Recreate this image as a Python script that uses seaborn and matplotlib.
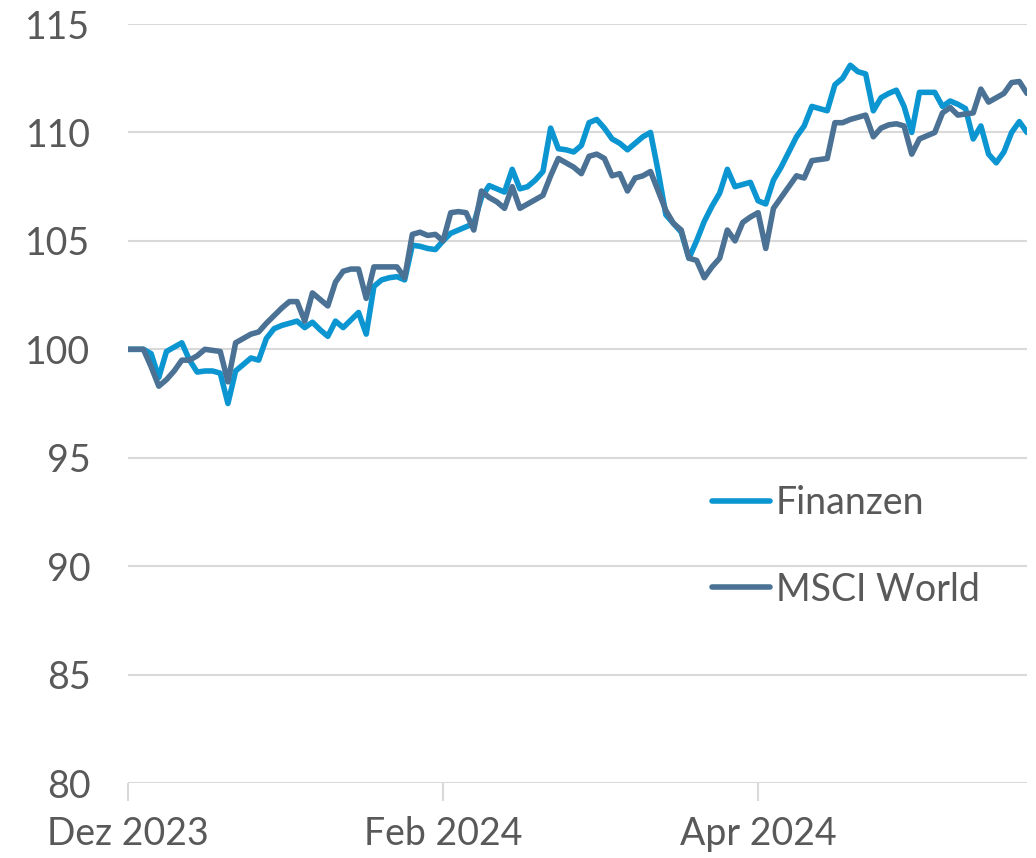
import numpy as np
import pandas as pd
import seaborn as sns
import matplotlib.pyplot as plt

# trading days (German exchange holidays removed)
holidays = ["2023-12-25", "2023-12-26", "2024-01-01", "2024-03-29",
            "2024-04-01", "2024-05-01", "2024-05-09", "2024-05-20"]
days = pd.bdate_range("2023-12-01", "2024-05-24")
days = days[~days.isin(pd.to_datetime(holidays))]

tick_months = ["2023-12", "2024-02", "2024-04"]
tick_labels = ["Dez 2023", "Feb 2024", "Apr 2024"]

finanzen = [
    100.0, 100.0, 100.0, 99.8, 98.7, 99.9, 100.1, 100.3, 99.5, 98.95,
    99.0, 99.0, 98.9, 97.5, 99.0, 99.3, 99.6, 99.5, 100.5, 100.95,
    101.1, 101.2, 101.3, 101.0, 101.25, 100.9, 100.6, 101.3, 101.0, 101.35,
    101.7, 100.7, 102.9, 103.2, 103.3, 103.35, 103.2, 104.8, 104.75, 104.65,
    104.6, 105.0, 105.35, 105.5, 105.65, 105.8, 107.0, 107.55, 107.4, 107.25,
    108.3, 107.4, 107.5, 107.8, 108.2, 110.2, 109.25, 109.2, 109.1, 109.4,
    110.45, 110.6, 110.2, 109.7, 109.5, 109.2, 109.5, 109.8, 110.0, 108.2,
    106.2, 105.8, 105.4, 104.2, 105.0, 105.9, 106.6, 107.2, 108.3, 107.5,
    107.6, 107.7, 106.85, 106.7, 107.8, 108.4, 109.1, 109.8, 110.3, 111.2,
    111.1, 111.0, 112.2, 112.5, 113.1, 112.8, 112.7, 111.0, 111.6, 111.8,
    111.95, 111.2, 110.0, 111.85, 111.85, 111.85, 111.2, 111.45, 111.3, 111.1,
    109.7, 110.3, 109.0, 108.6, 109.1, 110.0, 110.5, 110.0,
]
msci = [
    100.0, 100.0, 100.0, 99.2, 98.3, 98.6, 99.0, 99.5, 99.5, 99.7,
    100.0, 99.95, 99.9, 98.5, 100.3, 100.5, 100.7, 100.8, 101.2, 101.55,
    101.9, 102.2, 102.2, 101.3, 102.6, 102.3, 102.0, 103.1, 103.6, 103.7,
    103.7, 102.35, 103.8, 103.8, 103.8, 103.8, 103.3, 105.3, 105.4, 105.25,
    105.3, 105.0, 106.3, 106.35, 106.3, 105.5, 107.3, 107.0, 106.8, 106.5,
    107.5, 106.5, 106.7, 106.9, 107.1, 108.0, 108.8, 108.6, 108.4, 108.1,
    108.9, 109.0, 108.8, 108.0, 108.1, 107.3, 107.9, 108.0, 108.2, 107.3,
    106.4, 105.8, 105.5, 104.2, 104.1, 103.3, 103.8, 104.2, 105.5, 105.0,
    105.85, 106.1, 106.3, 104.65, 106.5, 107.0, 107.5, 108.0, 107.9, 108.7,
    108.75, 108.8, 110.45, 110.45, 110.6, 110.7, 110.8, 109.8, 110.2, 110.35,
    110.4, 110.3, 109.0, 109.7, 109.85, 110.0, 110.9, 111.15, 110.8, 110.85,
    110.9, 112.0, 111.4, 111.6, 111.8, 112.3, 112.35, 111.8,
]

colors = {"Finanzen": "#0b95d1", "MSCI World": "#4b7294"}
text_col = "#595959"
grid_col = "#d9d9d9"

df = pd.DataFrame({"pos": np.arange(len(days)), "Finanzen": finanzen, "MSCI World": msci})
df = df.melt(id_vars="pos", var_name="Serie", value_name="Wert")

sns.set_theme(style="white")
plt.rcParams["font.family"] = ["Lato", "DejaVu Sans"]

fig = plt.figure(figsize=(10.36, 8.58), dpi=100)
ax = fig.add_axes([0.1236, 0.0874, 0.8677, 0.8846])

sns.lineplot(data=df, x="pos", y="Wert", hue="Serie", palette=colors,
             linewidth=4, ax=ax)

ax.set_xlim(0, len(days) - 1)
ax.set_ylim(80, 115)
ax.set_yticks(range(80, 116, 5))
ax.yaxis.grid(True, color=grid_col, linewidth=1.5)
ax.set_axisbelow(True)
for s in ax.spines.values():
    s.set_visible(False)

month = days.strftime("%Y-%m")
tick_pos = [int(np.argmax(month == m)) for m in tick_months]
ax.set_xticks(tick_pos, tick_labels)
ax.tick_params(axis="x", bottom=True, length=13, width=1.5, color=grid_col,
               pad=11, labelsize=27, labelcolor=text_col)
ax.tick_params(axis="y", left=False, length=0, pad=27, labelsize=27,
               labelcolor=text_col)
ax.set_xlabel("")
ax.set_ylabel("")

handles, labels = ax.get_legend_handles_labels()
leg = ax.legend(handles, labels, frameon=False, loc="center left",
                bbox_to_anchor=(0.65, 0.312), fontsize=27, handlelength=1.55,
                handletextpad=0.15, labelspacing=1.35, borderaxespad=0,
                borderpad=0)
for t in leg.get_texts():
    t.set_color(text_col)
for h in leg.get_lines():
    h.set_linewidth(4)
    h.set_solid_capstyle("round")

fig.savefig("out.png", dpi=100)
